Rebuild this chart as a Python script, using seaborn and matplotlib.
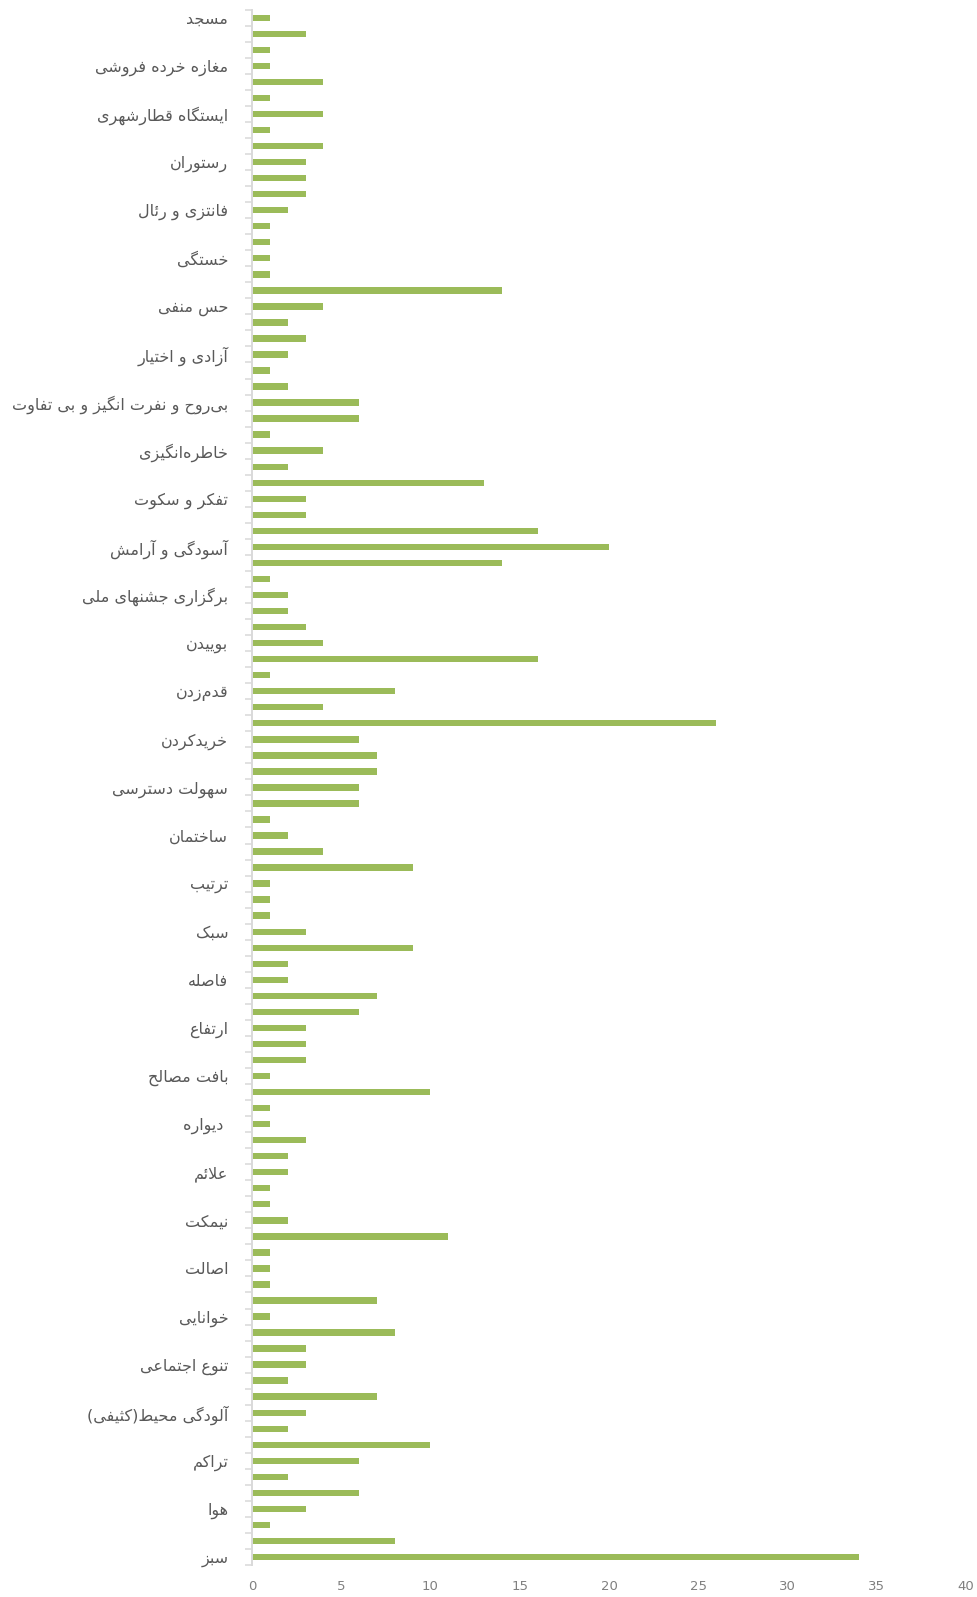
"""
plot.py
نمودار میله‌ای افقی فراوانی مؤلفه‌ها
"""

import numpy as np
import pandas as pd
import matplotlib
matplotlib.use("Agg")
import matplotlib.pyplot as plt
import seaborn as sns

# -------------------------
# داده‌ها (از بالا به پایین)
# -------------------------

values = [
    1, 3, 1, 1, 4, 1, 4, 1, 4, 3,
    3, 3, 2, 1, 1, 1, 1, 14, 4, 2,
    3, 2, 1, 2, 6, 6, 1, 4, 2, 13,
    3, 3, 16, 20, 14, 1, 2, 2, 3, 4,
    16, 1, 8, 4, 26, 6, 7, 7, 6, 6,
    1, 2, 4, 9, 1, 1, 1, 3, 9, 2,
    2, 7, 6, 3, 3, 3, 1, 10, 1, 1,
    3, 2, 2, 1, 1, 2, 11, 1, 1, 1,
    7, 1, 8, 3, 3, 2, 7, 3, 2, 10,
    6, 2, 6, 3, 1, 8, 34,
]

# one label for every third bar, starting at the top bar
labels = [
    "مسجد",
    "مغازه خرده فروشی",
    "ایستگاه قطارشهری",
    "رستوران",
    "فانتزی و رئال",
    "خستگی",
    "حس منفی",
    "آزادی و اختیار",
    "بی\u200cروح و نفرت انگیز و بی تفاوت",
    "خاطره\u200cانگیزی",
    "تفکر و سکوت",
    "آسودگی و آرامش",
    "برگزاری جشنهای ملی",
    "بوییدن",
    "قدم\u200cزدن",
    "خریدکردن",
    "سهولت دسترسی",
    "ساختمان",
    "ترتیب",
    "سبک",
    "فاصله",
    "ارتفاع",
    "بافت مصالح",
    "دیواره ",
    "علائم",
    "نیمکت",
    "اصالت",
    "خوانایی",
    "تنوع اجتماعی",
    "آلودگی محیط(کثیفی)",
    "تراکم",
    "هوا",
    "سبز",
]

label_step = 3
x_ticks = [0, 5, 10, 15, 20, 25, 30, 35, 40]

BAR_COLOR = "#9BBB59"
TEXT_COLOR = "#595959"
AXIS_COLOR = "#D9D9D9"

# -------------------------
# شکل‌دهی حروف فارسی (matplotlib اتصال حروف را انجام نمی‌دهد)
# -------------------------

FORMS = {
    "\u0627": ("\uFE8D", "\uFE8E"),
    "\u0622": ("\uFE81", "\uFE82"),
    "\u0628": ("\uFE8F", "\uFE90", "\uFE91", "\uFE92"),
    "\u067E": ("\uFB56", "\uFB57", "\uFB58", "\uFB59"),
    "\u062A": ("\uFE95", "\uFE96", "\uFE97", "\uFE98"),
    "\u062B": ("\uFE99", "\uFE9A", "\uFE9B", "\uFE9C"),
    "\u062C": ("\uFE9D", "\uFE9E", "\uFE9F", "\uFEA0"),
    "\u0686": ("\uFB7A", "\uFB7B", "\uFB7C", "\uFB7D"),
    "\u062D": ("\uFEA1", "\uFEA2", "\uFEA3", "\uFEA4"),
    "\u062E": ("\uFEA5", "\uFEA6", "\uFEA7", "\uFEA8"),
    "\u062F": ("\uFEA9", "\uFEAA"),
    "\u0630": ("\uFEAB", "\uFEAC"),
    "\u0631": ("\uFEAD", "\uFEAE"),
    "\u0632": ("\uFEAF", "\uFEB0"),
    "\u0698": ("\uFB8A", "\uFB8B"),
    "\u0633": ("\uFEB1", "\uFEB2", "\uFEB3", "\uFEB4"),
    "\u0634": ("\uFEB5", "\uFEB6", "\uFEB7", "\uFEB8"),
    "\u0635": ("\uFEB9", "\uFEBA", "\uFEBB", "\uFEBC"),
    "\u0636": ("\uFEBD", "\uFEBE", "\uFEBF", "\uFEC0"),
    "\u0637": ("\uFEC1", "\uFEC2", "\uFEC3", "\uFEC4"),
    "\u0638": ("\uFEC5", "\uFEC6", "\uFEC7", "\uFEC8"),
    "\u0639": ("\uFEC9", "\uFECA", "\uFECB", "\uFECC"),
    "\u063A": ("\uFECD", "\uFECE", "\uFECF", "\uFED0"),
    "\u0641": ("\uFED1", "\uFED2", "\uFED3", "\uFED4"),
    "\u0642": ("\uFED5", "\uFED6", "\uFED7", "\uFED8"),
    "\u06A9": ("\uFB8E", "\uFB8F", "\uFB90", "\uFB91"),
    "\u0643": ("\uFED9", "\uFEDA", "\uFEDB", "\uFEDC"),
    "\u06AF": ("\uFB92", "\uFB93", "\uFB94", "\uFB95"),
    "\u0644": ("\uFEDD", "\uFEDE", "\uFEDF", "\uFEE0"),
    "\u0645": ("\uFEE1", "\uFEE2", "\uFEE3", "\uFEE4"),
    "\u0646": ("\uFEE5", "\uFEE6", "\uFEE7", "\uFEE8"),
    "\u0647": ("\uFEE9", "\uFEEA", "\uFEEB", "\uFEEC"),
    "\u0648": ("\uFEED", "\uFEEE"),
    "\u06CC": ("\uFBFC", "\uFBFD", "\uFBFE", "\uFBFF"),
    "\u064A": ("\uFEF1", "\uFEF2", "\uFEF3", "\uFEF4"),
    "\u0649": ("\uFEEF", "\uFEF0"),
    "\u0626": ("\uFE89", "\uFE8A", "\uFE8B", "\uFE8C"),
}

LAM_ALEF = {
    "\u0627": ("\uFEFB", "\uFEFC"),
    "\u0622": ("\uFEF5", "\uFEF6"),
}

MIRROR = str.maketrans("()", ")(")


def joins_next(ch):
    return ch in FORMS and len(FORMS[ch]) == 4


def fa(text):
    core = text.rstrip()
    tail = text[len(core):]
    out = []
    i = 0
    n = len(core)
    while i < n:
        ch = core[i]
        if ch not in FORMS:
            if ch != "\u200c":
                out.append(ch)
            i += 1
            continue
        prev = core[i - 1] if i > 0 else ""
        nxt = core[i + 1] if i + 1 < n else ""
        joined_before = joins_next(prev)
        if ch == "\u0644" and nxt in LAM_ALEF:
            out.append(LAM_ALEF[nxt][1 if joined_before else 0])
            i += 2
            continue
        forms = FORMS[ch]
        joined_after = len(forms) == 4 and nxt in FORMS
        if joined_before and joined_after:
            out.append(forms[3])
        elif joined_before:
            out.append(forms[1])
        elif joined_after:
            out.append(forms[2])
        else:
            out.append(forms[0])
        i += 1
    return "".join(reversed(out)).translate(MIRROR) + tail


# -------------------------
# رسم
# -------------------------

sns.set_theme(style="white")
plt.rcParams["font.family"] = ["DejaVu Sans"]

df = pd.DataFrame({
    "pos": np.arange(len(values)),
    "value": values,
})

fig = plt.figure(figsize=(9.77, 15.97), dpi=100)
ax = fig.add_axes([0.2579, 0.0200, 0.7308, 0.9739])

sns.barplot(
    data=df,
    x="value",
    y="pos",
    orient="h",
    color=BAR_COLOR,
    saturation=1,
    width=0.4,
    edgecolor="none",
    ax=ax,
)

ax.set_xlim(0, 40)
ax.set_ylim(len(values) - 0.5, -0.5)

ax.set_xticks(x_ticks)
ax.set_xticklabels(
    [str(t) for t in x_ticks],
    fontsize=9.5,
    color="#808080",
    family=["Liberation Sans Narrow", "DejaVu Sans"],
)

ax.set_yticks(np.arange(0, len(values), label_step))
ax.set_yticklabels(
    [fa(l) for l in labels],
    fontsize=11.5,
    color=TEXT_COLOR,
    family=["DejaVu Sans"],
)
ax.set_yticks(np.arange(-0.5, len(values), 1), minor=True)

ax.tick_params(axis="y", which="major", length=0, pad=17)
ax.tick_params(axis="y", which="minor", length=5, width=1.1,
               color=AXIS_COLOR, direction="out", left=True)
ax.tick_params(axis="x", which="both", length=0, pad=11)

ax.set_xlabel("")
ax.set_ylabel("")

for side in ["top", "right", "bottom"]:
    ax.spines[side].set_visible(False)
ax.spines["left"].set_color(AXIS_COLOR)
ax.spines["left"].set_linewidth(1.4)

ax.grid(False)

fig.savefig("out.png", dpi=100, facecolor="white")
plt.close(fig)
